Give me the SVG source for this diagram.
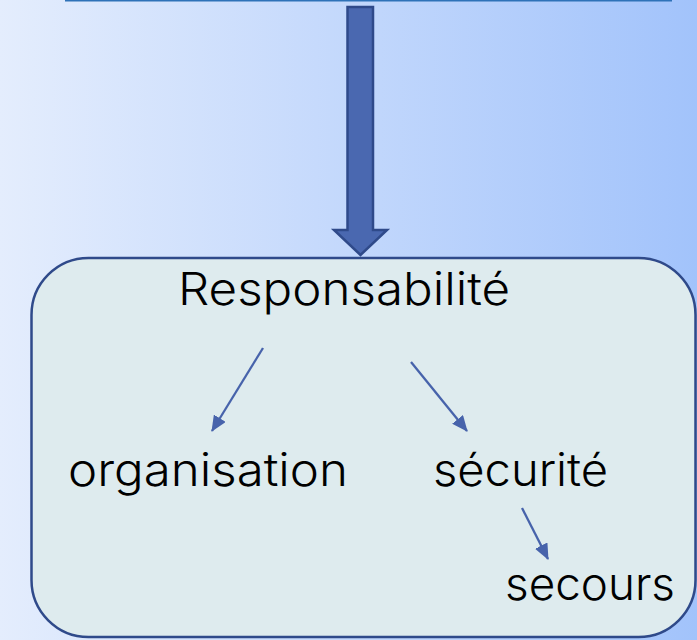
<svg xmlns="http://www.w3.org/2000/svg" width="697" height="640" viewBox="0 0 697 640">
<defs>
<linearGradient id="bg" x1="0" y1="0" x2="1" y2="0">
<stop offset="0" stop-color="#e4edfd"/>
<stop offset="1" stop-color="#a2c3fb"/>
</linearGradient>
<marker id="ah" viewBox="0 0 16 14" refX="15" refY="7" markerWidth="16" markerHeight="14" orient="auto" markerUnits="userSpaceOnUse">
<path d="M0,0 L16,7 L0,14 z" fill="#4763ab"/>
</marker>
<style>
.lbl{font-family:"Inter","DejaVu Sans","Liberation Sans",sans-serif;font-weight:300;font-size:45px;fill:#000;}
.con{stroke:#4763ab;stroke-width:2.3;fill:none;marker-end:url(#ah);}
</style>
</defs>
<rect x="0" y="0" width="697" height="640" fill="url(#bg)"/>
<line x1="65" y1="0.8" x2="672" y2="0.8" stroke="#2e72b8" stroke-width="1.6"/>
<g id="bigArrow">
<polygon points="347.5,7 373,7 373,230 387,230 360.5,255 334,230 347.5,230" fill="#4a68b0" stroke="#2f4a8a" stroke-width="2.5" stroke-linejoin="miter"/>
</g>
<g id="box">
<rect x="31.5" y="258" width="664" height="379" rx="57" ry="57" fill="#deebee" stroke="#2f4a8a" stroke-width="2.5"/>
</g>
<g id="responsabilite"><text class="lbl" x="178" y="305" textLength="332" lengthAdjust="spacingAndGlyphs">Responsabilité</text></g>
<g id="organisation"><text class="lbl" x="68" y="486" textLength="280" lengthAdjust="spacingAndGlyphs">organisation</text></g>
<g id="securite"><text class="lbl" x="433" y="486" textLength="175" lengthAdjust="spacingAndGlyphs">sécurité</text></g>
<g id="secours"><text class="lbl" x="505" y="600" textLength="170" lengthAdjust="spacingAndGlyphs">secours</text></g>
<g id="connectors">
<line class="con" x1="263" y1="348" x2="212" y2="431"/>
<line class="con" x1="411" y1="362" x2="467" y2="431"/>
<line class="con" x1="522" y1="508" x2="548" y2="559"/>
</g>
</svg>
